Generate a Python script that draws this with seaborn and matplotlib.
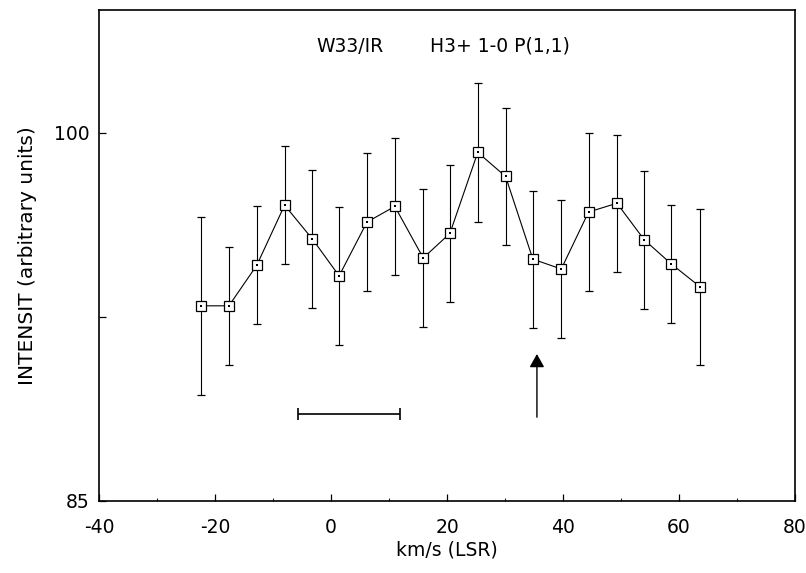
import matplotlib

matplotlib.use("Agg")
import matplotlib.pyplot as plt
import numpy as np
import pandas as pd
import seaborn as sns

# velocity (km/s LSR) and intensity
velocity = [-22.4, -17.6, -12.8, -8.0, -3.2, 1.4, 6.2, 11.0, 15.9, 20.5,
            25.3, 30.1, 34.8, 39.7, 44.4, 49.3, 54.0, 58.7, 63.6]
intensity = [92.95, 92.95, 94.6, 97.05, 95.67, 94.17, 96.36, 97.0, 94.9, 95.9,
             99.2, 98.22, 94.85, 94.45, 96.77, 97.13, 95.64, 94.65, 93.73]
error = [3.62, 2.4, 2.4, 2.4, 2.8, 2.8, 2.8, 2.8, 2.82, 2.8,
         2.84, 2.79, 2.79, 2.83, 3.21, 2.79, 2.82, 2.4, 3.18]

# resolution bar and arrow marker
res_bar = [-5.7, 11.9]
res_bar_y = 88.55
arrow_x = 35.5
arrow_y = [88.3, 91.1]

df = pd.DataFrame({"v": velocity, "I": intensity, "err": error})

sns.set_style("ticks")
plt.rcParams["font.family"] = ["DejaVu Sans"]
plt.rcParams["axes.unicode_minus"] = False
plt.rcParams["text.color"] = "black"
plt.rcParams["axes.labelcolor"] = "black"

fig = plt.figure(figsize=(8.06, 5.73), dpi=100)
ax = fig.add_axes([0.1228, 0.1257, 0.8636, 0.8568])

ax.errorbar(df["v"], df["I"], yerr=df["err"], fmt="none", ecolor="black",
            elinewidth=0.8, capsize=3, capthick=0.9)
sns.lineplot(data=df, x="v", y="I", ax=ax, color="black", linewidth=0.8,
             marker="s", markersize=6.5, markerfacecolor="white",
             markeredgecolor="black", markeredgewidth=0.9)
# little dot in the middle of each square
sns.scatterplot(data=df, x="v", y="I", ax=ax, color="black", s=1.5,
                marker="s", linewidth=0, zorder=5)

# velocity resolution bar
mid = np.mean(res_bar)
ax.errorbar([mid], [res_bar_y], xerr=[[mid - res_bar[0]], [res_bar[1] - mid]],
            fmt="none", ecolor="black", elinewidth=1.2, capsize=4, capthick=1.2)

# arrow
ax.annotate("", xy=(arrow_x, arrow_y[1]), xytext=(arrow_x, arrow_y[0]),
            arrowprops=dict(arrowstyle="-|>,head_length=0.8,head_width=0.45",
                            color="black", lw=1.0))

ax.text(3.2, 103.5, "W33/IR", fontsize=13.5, ha="center", va="center")
ax.text(17.0, 103.55, "H3+ 1-0 P(1,1)", fontsize=13.5, ha="left", va="center")

ax.set_xlim(-40, 80)
ax.set_ylim(85, 105)
ax.set_xticks([-40, -20, 0, 20, 40, 60, 80])
ax.set_xticks([-30, -10, 10, 30, 50, 70], minor=True)
ax.set_yticks([85, 92.5, 100])
ax.set_yticklabels(["85", "", "100"])
ax.tick_params(axis="both", which="major", direction="in", length=5, width=0.9,
               labelsize=13.5, colors="black")
ax.tick_params(axis="x", which="major", pad=12)
ax.tick_params(axis="y", which="major", pad=7)
ax.tick_params(axis="both", which="minor", direction="in", length=2, width=0.8)
for s in ax.spines.values():
    s.set_linewidth(1.2)
    s.set_color("black")

ax.set_xlabel("km/s (LSR)", fontsize=13.5, labelpad=3)
ax.set_ylabel("INTENSIT (arbitrary units)", fontsize=14.5, labelpad=12)

fig.savefig("out.png", dpi=100)
plt.close(fig)
